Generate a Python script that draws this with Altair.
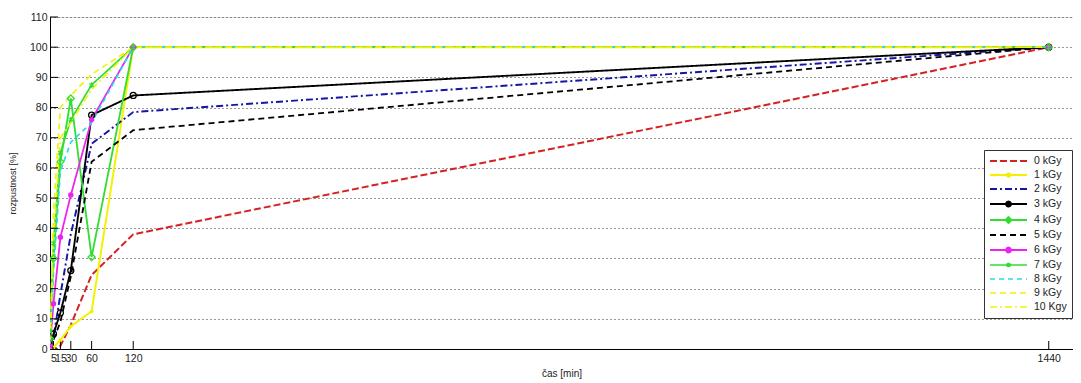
import altair as alt
import pandas as pd

# ---- data ----
times = [0, 5, 15, 30, 60, 120, 1440]
series = ["0 kGy", "1 kGy", "2 kGy", "3 kGy", "4 kGy", "5 kGy",
          "6 kGy", "7 kGy", "8 kGy", "9 kGy", "10 Kgy"]
v0 = [0, 0, 1, 8, 24.5, 38, 100]
v1 = [0, 0.5, 3, 7.5, 12.5, 100, 100]
v2 = [0, 4, 18, 38, 68, 78.5, 100]
v3 = [0, 5, 12, 26, 77.5, 84, 100]
v4 = [3.5, 30, 62, 83, 30.5, 100, 100]
v5 = [0, 3, 9, 24, 62, 72.5, 100]
v6 = [1, 15, 37, 51, 76, 100, 100]
v7 = [6, 35, 65, 76, 87.5, 100, 100]
v8 = [0, 25, 59, 68.5, 75, 100, 100]
v9 = [0, 45, 80, 84, 91, 100, 100]
v10 = [0, 35, 70, 75, 86, 100, 100]
all_values = [v0, v1, v2, v3, v4, v5, v6, v7, v8, v9, v10]

x_ticks = [5, 15, 30, 60, 120, 1440]
y_ticks = [0, 10, 20, 30, 40, 50, 60, 70, 80, 90, 100, 110]

# ---- styles ----
colors = ["#d42222", "#f2f200", "#1414a8", "#000000", "#33dd33", "#000000",
          "#ee22ee", "#33dd33", "#22dde8", "#f2f200", "#f2f200"]
dashes = [[7, 3], [1, 0], [7, 3, 2, 3], [1, 0], [1, 0], [6, 4],
          [1, 0], [1, 0], [5, 4], [6, 4], [7, 3, 2, 3]]
widths = [2, 1.6, 2, 1.5, 1.6, 1.8, 1.5, 1.6, 1.5, 1.6, 1.5]
fills = ["transparent", "#f2f200", "transparent", "transparent", "transparent",
         "transparent", "#ee22ee", "transparent", "transparent", "transparent",
         "transparent"]

L = "M-1,0H6.4"
legend_paths = [
    L,
    L + "M2.35,0A0.35,0.35 0 1,0 3.05,0A0.35,0.35 0 1,0 2.35,0",
    L,
    "M-1,0H2.2M3.2,0H6.4M2.2,0A0.5,0.5 0 1,0 3.2,0A0.5,0.5 0 1,0 2.2,0",
    "M-1,0H2.1M3.3,0H6.4M2.1,0L2.7,-0.6L3.3,0L2.7,0.6Z",
    L,
    L + "M2.2,0A0.5,0.5 0 1,0 3.2,0A0.5,0.5 0 1,0 2.2,0",
    L + "M2.7,-0.45V0.45M2.3,-0.3L3.1,0.3M2.3,0.3L3.1,-0.3",
    L,
    L,
    L,
]

rows = []
for s, vals in zip(series, all_values):
    for t, v in zip(times, vals):
        rows.append({"t": t, "v": v, "serie": s})
df = pd.DataFrame(rows)

W, H = 1023, 332
FONT = "Liberation Sans"

xs = alt.Scale(domain=[0, 1475], nice=False, zero=False)
ys = alt.Scale(domain=[0, 110], nice=False)
color_s = alt.Scale(domain=series, range=colors)
dash_s = alt.Scale(domain=series, range=dashes)
shape_s = alt.Scale(domain=series, range=legend_paths)
fill_s = alt.Scale(domain=series, range=fills)
width_s = alt.Scale(domain=series, range=widths)

legend = alt.Legend(
    title=None, orient="none", legendX=934, legendY=133,
    strokeColor="#333333", fillColor="white", padding=5,
    symbolSize=100, symbolStrokeWidth=1.5, labelOffset=33,
    labelFontSize=10.5, labelFont=FONT, labelColor="#222222",
    rowPadding=2, symbolOpacity=1,
)

x_axis = alt.Axis(values=x_ticks, title="čas [min]", labelOverlap=False,
                  format="d", ticks=False, tickSize=0, grid=False,
                  labelPadding=4, titlePadding=5, labelFontSize=10.5,
                  titleFontSize=10, labelFont=FONT, titleFont=FONT,
                  titleFontWeight="normal", labelColor="#222222",
                  titleColor="#222222", domainColor="#000000",
                  labelFlush=False)
y_axis = alt.Axis(values=y_ticks, title="rozpustnost [%]", ticks=False,
                  labelOverlap=False, tickSize=0, grid=True, gridDash=[1, 3],
                  gridColor="#000000", gridOpacity=0.8, labelPadding=3,
                  labelFontSize=10.5, titleFontSize=9, labelFont=FONT,
                  titleFont=FONT, titleFontWeight="normal",
                  labelColor="#222222", titleColor="#222222",
                  domainColor="#000000", titleX=-38, titleY=H / 2,
                  titleBaseline="middle", labelFlush=False)

X = alt.X("t:Q", scale=xs, axis=x_axis)
Y = alt.Y("v:Q", scale=ys, axis=y_axis)

base = alt.Chart(df)

lines = base.mark_line(clip=True).encode(
    x=X, y=Y,
    color=alt.Color("serie:N", scale=color_s, legend=legend, sort=series),
    strokeDash=alt.StrokeDash("serie:N", scale=dash_s, legend=legend, sort=series),
    strokeWidth=alt.StrokeWidth("serie:N", scale=width_s, legend=None),
    order=alt.Order("t:Q"),
)

legend_layer = base.transform_filter("false").mark_point(
    filled=False, opacity=1, strokeWidth=1.5
).encode(
    x=X, y=Y,
    color=alt.Color("serie:N", scale=color_s, legend=legend, sort=series),
    strokeDash=alt.StrokeDash("serie:N", scale=dash_s, legend=legend, sort=series),
    shape=alt.Shape("serie:N", scale=shape_s, legend=legend, sort=series),
    fill=alt.Fill("serie:N", scale=fill_s, legend=legend, sort=series),
)

marker_defs = [
    ("1 kGy", "circle", True, 14),
    ("3 kGy", "circle", False, 36),
    ("4 kGy", "diamond", False, 50),
    ("6 kGy", "circle", True, 30),
    ("7 kGy", "M0,-1V1M-0.8,-0.6L0.8,0.6M-0.8,0.6L0.8,-0.6", False, 30),
]
marker_layers = []
for s, shp, filled, size in marker_defs:
    marker_layers.append(
        base.transform_filter(alt.datum.serie == s).mark_point(
            shape=shp, filled=filled, size=size, opacity=1, strokeWidth=1.3,
            clip=True
        ).encode(
            x=X, y=Y,
            color=alt.Color("serie:N", scale=color_s, legend=legend, sort=series),
        )
    )

xt = pd.DataFrame({"t": x_ticks})
yt = pd.DataFrame({"v": y_ticks})
x_tick_marks = alt.Chart(xt).mark_rule(color="#000000", strokeWidth=1).encode(
    x=X, y=alt.value(H), y2=alt.value(H - 8))
y_tick_marks = alt.Chart(yt).mark_rule(color="#000000", strokeWidth=1).encode(
    y=Y, x=alt.value(0), x2=alt.value(8))

chart = alt.layer(
    lines, x_tick_marks, y_tick_marks, *marker_layers, legend_layer
).properties(
    width=W, height=H,
    padding={"left": 0, "top": 4, "right": 0, "bottom": 0},
).configure_view(stroke=None).configure(background="white")

chart.save("out.html", embed_options={"renderer": "svg", "actions": False})
